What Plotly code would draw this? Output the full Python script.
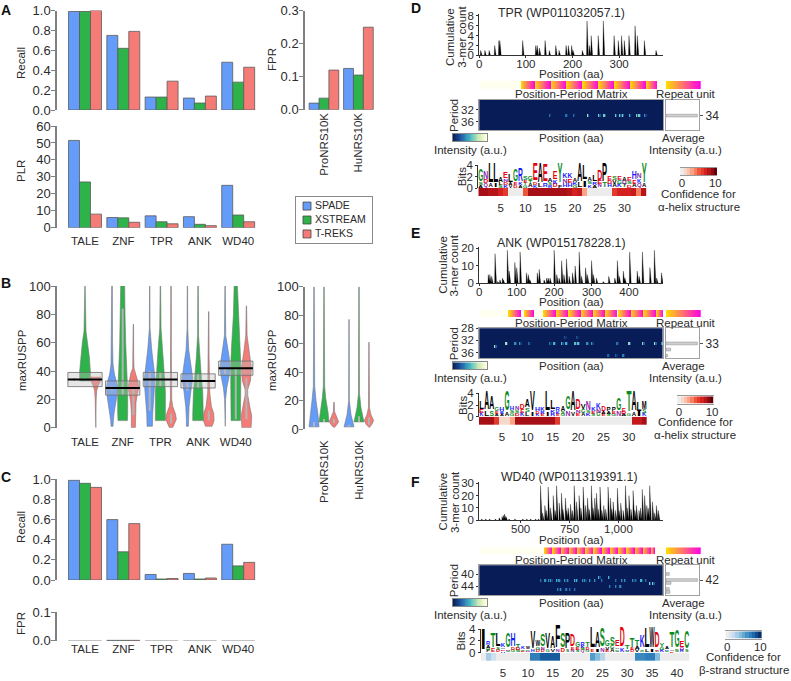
import numpy as np
import plotly.graph_objects as go

W, H = 791, 681
FONT = "Liberation Sans"
TXT = "#2b2b2b"
AXC = "#808080"
BLUE, GREEN, RED = "#659CF9", "#2DB34A", "#F57B77"
TOOLS = ["SPADE", "XSTREAM", "T-REKS"]
COLORS = [BLUE, GREEN, RED]

# panel A
FAMILIES = ["TALE", "ZNF", "TPR", "ANK", "WD40"]
NRS = ["ProNRS10K", "HuNRS10K"]
A_RECALL_SPADE = [0.99, 0.75, 0.13, 0.12, 0.48]
A_RECALL_XSTREAM = [0.99, 0.62, 0.13, 0.07, 0.28]
A_RECALL_TREKS = [1.0, 0.79, 0.29, 0.14, 0.43]
A_PLR_SPADE = [51.5, 6, 7, 6.5, 25]
A_PLR_XSTREAM = [27, 5.8, 3.5, 2, 7.5]
A_PLR_TREKS = [8, 3.2, 2.3, 1.2, 3.5]
A_FPR_SPADE = [0.02, 0.125]
A_FPR_XSTREAM = [0.035, 0.105]
A_FPR_TREKS = [0.12, 0.25]

# panel C
C_RECALL_SPADE = [0.99, 0.60, 0.055, 0.065, 0.355]
C_RECALL_XSTREAM = [0.96, 0.28, 0.01, 0.01, 0.14]
C_RECALL_TREKS = [0.92, 0.56, 0.015, 0.02, 0.175]
C_FPR_SPADE = [0.0006, 0.0012, 0.0006, 0.0006, 0.0006]
C_FPR_XSTREAM = [0.0006, 0.0012, 0.0006, 0.0006, 0.0006]
C_FPR_TREKS = [0.0006, 0.0012, 0.0006, 0.0006, 0.0006]

# panel B, violin outlines: (maxRUSPP values, half widths)
V_TALE_S = ([35, 34, 33], [0, 2, 0])
V_TALE_X = ([100, 68, 60, 50, 40, 36, 33], [0.5, 3, 8, 13, 16, 16, 16])
V_TALE_T = ([36, 34, 30, 26, 20, 0], [14, 16, 8, 3, 1.5, 0.5])
V_ZNF_S = ([100, 60, 45, 38, 30, 26, 20, 10, 5, 1], [1, 1.5, 3, 7, 16, 17, 13, 6, 4, 3])
V_ZNF_X = ([100, 80, 60, 40, 25, 10, 5], [6, 7, 9, 12, 15, 15, 14])
V_ZNF_T = ([73, 50, 42, 38, 32, 28, 24, 18, 10, 5, 0], [0.5, 1, 2, 8, 14, 16, 12, 8, 6, 6, 6])
V_TPR_S = ([100, 70, 55, 45, 35, 28, 20, 10, 1], [0.5, 1, 6, 11, 16, 15, 12, 9, 8])
V_TPR_X = ([100, 70, 55, 40, 25, 10, 5], [0.7, 2, 7, 11, 15, 15, 15])
V_TPR_T = ([100, 50, 30, 20, 15, 10, 6, 3, 0], [0.7, 1, 1, 2, 5, 13, 16, 11, 5])
V_ANK_S = ([100, 70, 55, 45, 35, 25, 15, 5, 1], [0.5, 1, 4, 10, 16, 10, 5, 3, 3])
V_ANK_X = ([100, 65, 50, 35, 25, 10, 5], [0.7, 1.5, 5, 10, 14, 16, 16])
V_ANK_T = ([82, 50, 35, 25, 15, 10, 5, 1], [0.5, 1, 2, 3, 8, 15, 16, 10])
V_WD40_S = ([100, 65, 58, 50, 42, 35, 28, 20, 1], [0.5, 2, 6, 12, 16, 11, 5, 1.5, 0.5])
V_WD40_X = ([100, 80, 60, 45, 30, 15, 5], [5, 7, 12, 15, 15, 15, 14])
V_WD40_T = ([86, 65, 55, 42, 33, 27, 23, 15, 8, 2, 0], [0.5, 2, 7, 15, 12, 4, 4, 10, 16, 14, 14])
V_PRO_S = ([100, 30, 20, 10, 1.5], [0.7, 2, 6, 12, 15])
V_PRO_X = ([100, 30, 22, 12, 5], [0.7, 2, 5, 12, 15])
V_PRO_T = ([19, 12, 8, 5, 2, 1], [0.5, 2, 9, 14, 5, 1])
V_HU_S = ([77, 20, 10, 6, 1.5], [0.5, 1, 6, 11, 15])
V_HU_X = ([100, 25, 15, 8, 5], [0.7, 1.5, 6, 12, 15])
V_HU_T = ([61, 15, 10, 6, 3, 1], [0.5, 1.5, 6, 14, 8, 1])
# inner whisker bars (low, high)
INNER_FAM = [[(34, 35), (34, 35), (33, 35)], [(26, 27), (23, 84), (9, 28)], [(12, 40), (29, 39), (3, 10)],
             [(26, 33), (28, 38), (5, 12)], [(38, 42), (6, 42), (6, 35)]]
INNER_NRS = [[(1.5, 5), (5, 7), (4, 7)], [(2, 3), (5, 9), (3, 8)]]
BOX_Q1 = [29, 23, 29, 28, 37]
BOX_Q3 = [39, 33, 39, 38, 47]
BOX_MED = [34, 28, 34, 33, 42]

# panel D
D_NAME = "TPR (WP011032057.1)"
D_PEAK_POS = [3, 12, 21, 33, 42, 44, 93, 121, 124, 129, 141, 150, 164, 171, 186, 191, 198, 201, 221, 231, 236, 240,
              255, 266, 289, 298, 305, 311, 321, 334, 339, 354, 379]
D_PEAK_COUNT = [1, 1, 1, 2, 3, 3, 3, 2, 2, 1.5, 3, 1, 2, 1, 2, 2, 2, 1, 1, 7, 2, 4, 4, 7, 4, 3, 4, 3, 4, 6, 4, 3, 1]
D_REPEATS = [(89, 119), (119, 153), (153, 186), (186, 221), (221, 255), (255, 289), (289, 323), (323, 357), (357, 381)]
D_SPOT_POS = [151, 186, 203, 233, 257, 267, 292, 300, 306, 323, 337, 343, 356]
D_SPOT_PERIOD = [34] * 13
D_SPOT_VAL = [.3, .3, .3, .7, .6, .6, .6, .6, .6, .5, .6, .6, .4]
D_HIST_PERIOD = [34]
D_HIST_VAL = [0.95]
D_LETTERS = list("GNLLAELGRSGEAEAEYKKAALALDPESEAEHNY")
D_LOWER = ["AS", "QD", "A", "I", "SL", "KDN", "VA", "DE", "AK", "GTE", "AT", "KD", "L", "R", "RS", "DK", "F", "HN",
           "HE", "GK", "L", "I", "KS", "AR", "NE", "T", "HD", "AV", "KG", "TQ", "DS", "AE", "QK", "A"]
D_BITS = [3, 2.7, 4, 4, 1.8, 2.6, 2.2, 3, 3.1, 2, 2, 3.9, 4, 3.7, 1.6, 2.7, 4, 2.5, 2.5, 1.6, 4, 3.8, 1.7, 2.2, 3, 4,
          2, 2, 2, 1.8, 1.8, 2.7, 2.5, 4]
D_TOP = [2, 1.3, 3.4, 3.4, .8, 1.1, 1.4, 2.1, 2.2, .7, .7, 3, 3.4, 3, .7, 1.4, 3.5, 1, 1, .6, 3.2, 2.6, .6, 1.2, 1.8,
         3.2, .7, .7, .7, .6, .7, 1.4, 1, 3.4]
D_CONF = [8.5, 8.5, 8, 8, 7, 6, 0, 0, 0, 5, 8.5, 8.5, 8.5, 8.5, 8.5, 8.5, 8.5, 8.5, 8, 7, 7.5, 3, 0, 0, 0, 0, 0, 6, 7,
          7, 7, 7.5, 4, 8]

# panel E
E_NAME = "ANK (WP015178228.1)"
E_PEAK_POS = [24, 28, 33, 42, 49, 55, 62, 64, 75, 80, 95, 100, 109, 126, 131, 135, 155, 160, 173, 180, 184, 189, 200,
              207, 213, 220, 226, 233, 240, 249, 256, 267, 273, 284, 289, 300, 305, 313, 331, 346, 362, 369, 374, 385,
              389, 402, 422, 427, 436, 456, 468, 474, 487]
E_PEAK_COUNT = [5, 5, 4, 17, 1, 2, 3, 2, 19, 7, 12, 9, 18, 6, 5, 2, 6, 8, 2, 3, 3, 3, 19, 5, 3, 13, 5, 14, 4, 6, 10,
                18, 4, 9, 5, 13, 5, 3, 1, 4, 3, 13, 4, 7, 3, 18, 7, 4, 18, 9, 19, 3, 6]
E_REPEATS = [(78, 111), (120, 146), (171, 205), (205, 238), (238, 271), (271, 304), (304, 336), (336, 369), (371, 404),
             (404, 438), (438, 472), (472, 491)]
E_SPOT_POS = [41, 75, 98, 110, 132, 190, 201, 222, 233, 256, 267, 289, 301, 370, 403, 437, 470, 489, 231, 262, 345,
              365, 385]
E_SPOT_PERIOD = [34] + [33] * 17 + [31, 31, 37, 37, 37]
E_SPOT_VAL = [.7, .7, .4, .4, .3, .3, .5, .55, .5, .55, .55, .4, .4, .3, .65, .65, .7, .4, .2, .2, .25, .25, .35]
E_HIST_PERIOD = [33, 35, 37]
E_HIST_VAL = [0.95, 0.14, 0.05]
E_LETTERS = list("LAAGHGHNDAVHKLLRAGADVNKKDPPGETALM")
E_LOWER = ["KE", "L", "S", "AE", "AR", "A", "GS", "DS", "KE", "LS", "I", "KD", "ER", "I", "RK", "EK", "GS", "N", "V",
           "EN", "AG", "KS", "SE", "GN", "EA", "SA", "GE", "N", "AD", "G", "A", "I", "KS"]
E_BITS = [2.4, 4, 3.2, 1.5, 1.5, 4, 1.6, 1.6, 2.2, 2.8, 4, 1.5, 1.5, 4, 2.6, 1.4, 1.8, 3.2, 4, 2.8, 2, 2.5, 1.5, 2.2,
          1.7, 1.5, 1.5, 3, 1.3, 4, 4, 2.4, 2.5]
E_TOP = [1.3, 3.2, 2.2, .7, .7, 3.4, .6, .6, 1, 1.4, 3.4, .7, .6, 3.4, 1.6, .6, .9, 2.3, 3.4, 1.8, .9, 1.5, .6, 1.1,
         .8, .6, .6, 2.1, .6, 3.6, 3.4, 1.6, 1.3]
E_CONF = [8.5, 8.5, 8.5, 6, 1, 1, 3, 8.5, 8.5, 8.5, 8.5, 8.5, 8.5, 8.5, 8.5, 6, 0, 0, 0, 0, 0, 0, 0, 0, 0, 0, 0, 0, 0,
          0, 7.5, 7.5, 8.5]

# panel F
F_NAME = "WD40 (WP011319391.1)"
F_PEAK_POS = [300, 320, 340, 370, 390, 405, 412, 418, 425, 440, 470, 510, 530, 550, 575, 590, 602, 612, 624, 632, 641,
              653, 667, 676, 684, 697, 709, 716, 729, 736, 743, 755, 765, 774, 786, 799, 808, 820, 832, 842, 850, 862,
              870, 879, 888, 897, 906, 915, 925, 935, 947, 959, 966, 973, 985, 995, 1003, 1012, 1024, 1036, 1045,
              1054, 1064, 1075, 1084, 1092, 1105, 1113, 1122, 1134, 1145, 1152, 1160, 1174, 1185, 1194, 1204]
F_PEAK_COUNT = [1, 1, 1, 1, 2, 3, 4, 5, 3, 1, 1, 1, 1, 1, 1, 1, 28, 6, 12, 8, 27, 10, 20, 8, 28, 14, 22, 9, 18, 8, 10,
                13, 8, 28, 15, 20, 10, 27, 12, 18, 9, 28, 10, 18, 22, 9, 27, 8, 12, 9, 27, 18, 9, 15, 8, 26, 8, 14, 8,
                28, 10, 20, 9, 24, 8, 12, 8, 10, 25, 20, 12, 10, 28, 15, 6, 12, 8]
F_REPEATS = [(620, 662), (662, 704), (704, 746), (746, 788), (788, 830), (830, 872), (872, 914), (914, 956), (956, 998),
             (998, 1040), (1040, 1082), (1082, 1124), (1124, 1166), (1166, 1186)]
F_SPOT_POS = [602, 629, 646, 660, 687, 700, 729, 743, 775, 788, 819, 832, 857, 879, 913, 990, 1015, 1036, 1075, 1092,
              1122, 1143, 905, 949, 1163, 1177, 956, 990, 1012, 694, 707, 735, 752, 777]
F_SPOT_PERIOD = [42] * 22 + [41, 41, 43, 43, 44, 44, 44, 45, 45, 45, 45, 45]
F_SPOT_VAL = [.3, .4, .4, .4, .5, .4, .4, .4, .5, .5, .4, .4, .4, .4, .3, .3, .4, .4, .4, .3, .5, .3, .5, .5, .6, .6,
              .35, .35, .35, .35, .4, .3, .3, .3]
F_HIST_PERIOD = [40, 42, 43, 45, 46]
F_HIST_VAL = [0.1, 0.95, 0.15, 0.1, 0.12]
F_LETTERS = list("IRTLKGHTKWVWSVAFSPDGRTLASGSEDTTTKLWDYATGEC")
F_LOWER = ["", "PGA", "E", "DS", "HDA", "SN", "GD", "SD", "ES", "NG", "H", "DG", "DN", "G", "V", "N", "D", "S", "NE",
           "SE", "QSK", "GD", "E", "I", "N", "EV", "AG", "SGA", "K", "SR", "DE", "VA", "GS", "L", "I", "VE", "KG",
           "SK", "EA", "S", "RQ", "S"]
F_BITS = [3.8, 1.9, 3, 3, 1.4, 3, 3, 1.4, 1, 1, 3.2, 2.1, 2.7, 3, 2.6, 4.2, 3, 3, 2.7, 1.8, 1.8, 1.7, 4, 3.1, 3.7, 1.9,
          2.5, 1.9, 4, 1.2, 2.3, 2.1, 2.6, 3.9, 4, 3.3, 1.6, 1, 3.2, 3.4, 2, 3.4]
F_TOP = [3.6, .7, 2.4, 2.2, .6, 2.4, 2.2, .7, .4, .4, 2.8, 1.2, 1.9, 2.6, 2.1, 3.8, 2.4, 2.6, 1.9, .9, .7, .9, 3.6,
         2.6, 3.1, 1, 1.4, 1, 3.4, .6, 1.5, 1.1, 2, 3.4, 3.6, 2.7, .7, .4, 2.7, 2.9, 1.2, 3]
F_CONF = [0, 3, 1.5, 0, 0, 0, 0, 0, 0, 0, 7, 7, 8.5, 8.5, 8.5, 8.5, 0, 0, 0, 0, 0, 0, 5.5, 4, 2.5, 0, 0, 0, 0, 0, 0,
          6.5, 6.5, 7, 7, 4, 0, 0, 0, 0, 0, 0]

STRIP_SCALE = [[0, "#fffff0"], [0.0899, "#fffff0"], [0.0909, "#ffdc00"], [1, "#ff00e6"]]
INTENSITY_SCALE = [[0, "#081d58"], [.25, "#225ea8"], [.5, "#41b6c4"], [.75, "#c7e9b4"], [1, "#ffffd9"]]
REDS = [[0, "#ececec"], [.15, "#fcd0bc"], [.35, "#fc9272"], [.5, "#f0553c"], [.7, "#d42020"], [.85, "#a50f15"], [1, "#67000d"]]
BLUES = [[0, "#ececec"], [.2, "#c6dbef"], [.4, "#85bcdc"], [.6, "#4292c6"], [.8, "#1b69ab"], [1, "#08306b"]]
RES_COLOR = {"D": "#e8000d", "E": "#e8000d", "K": "#1a1aff", "R": "#1a1aff", "H": "#1a1aff", "N": "#8a1fa8", "Q": "#8a1fa8",
             "G": "#0a8a1e", "S": "#0a8a1e", "T": "#0a8a1e", "Y": "#0a8a1e", "C": "#0a8a1e"}

fig = go.Figure()
layout = {}
n_axes = [0]
annots = []


def add_axes(left, top, right, bottom, xopts=None, yopts=None):
    n_axes[0] += 1
    n = n_axes[0]
    suffix = "" if n == 1 else str(n)
    xo = dict(visible=False, anchor="y" + suffix, domain=[left / W, right / W], fixedrange=True)
    yo = dict(visible=False, anchor="x" + suffix, domain=[1 - bottom / H, 1 - top / H], fixedrange=True)
    xo.update(xopts or {})
    yo.update(yopts or {})
    layout["xaxis" + suffix] = xo
    layout["yaxis" + suffix] = yo
    return "x" + suffix, "y" + suffix


def label(x, y, text, size=11.5, angle=0, bold=False, color=TXT):
    annots.append(dict(x=x / W, y=1 - y / H, xref="paper", yref="paper", text=text, showarrow=False, textangle=angle,
                       xanchor="center", yanchor="middle", font=dict(family=FONT, size=size, color=color,
                                                                     weight="bold" if bold else "normal")))


def value_axis(tickvals, ticktext, rng, size=13):
    return dict(visible=True, range=rng, tickvals=tickvals, ticktext=ticktext, showline=True, linecolor=AXC,
                linewidth=1.5, ticks="outside", ticklen=4, tickwidth=1, tickcolor=AXC, showgrid=False, zeroline=False,
                ticklabelstandoff=-2, tickfont=dict(family=FONT, size=size, color=TXT))


def cat_axis(cats, rng, size=11.5, angle=0, show=True, standoff=0):
    return dict(visible=True, type="category", categoryarray=cats, range=rng, showline=False, showgrid=False,
                showticklabels=show, ticks="", tickangle=angle, ticklabelstandoff=standoff,
                tickfont=dict(family=FONT, size=size, color=TXT))


def bars(xa, ya, cats, series, edge="#5a5a5a"):
    for name, color, vals in zip(TOOLS, COLORS, series):
        fig.add_trace(go.Bar(x=cats, y=vals, name=name, marker=dict(color=color, line=dict(color=edge, width=0.8)),
                             xaxis=xa, yaxis=ya, showlegend=False, hoverinfo="skip"))


FRAC = [0, 0.2, 0.4, 0.6, 0.8, 1.0]
FRAC_T = ["0.0", "0.2", "0.4", "0.6", "0.8", "1.0"]
FAM_RANGE = [-0.731, 4.517]

# A
xa, ya = add_axes(57, 10.5, 258, 110, cat_axis(FAMILIES, FAM_RANGE, show=False), value_axis(FRAC, FRAC_T, [0, 1]))
bars(xa, ya, FAMILIES, [A_RECALL_SPADE, A_RECALL_XSTREAM, A_RECALL_TREKS])
xa, ya = add_axes(57, 126, 258, 227.7, cat_axis(FAMILIES, FAM_RANGE, standoff=5),
                  value_axis([0, 10, 20, 30, 40, 50, 60], [str(v) for v in range(0, 70, 10)], [0, 60]))
bars(xa, ya, FAMILIES, [A_PLR_SPADE, A_PLR_XSTREAM, A_PLR_TREKS])
xa, ya = add_axes(305, 10.7, 376, 109.7, cat_axis(NRS, [-0.55, 1.51], angle=-90),
                  value_axis([0, 0.1, 0.2, 0.3], ["0.0", "0.1", "0.2", "0.3"], [0, 0.3]))
bars(xa, ya, NRS, [A_FPR_SPADE, A_FPR_XSTREAM, A_FPR_TREKS])
label(21, 63, "Recall")
annots[-1]["textangle"] = -90
label(21, 171, "PLR", angle=-90)
label(272, 60, "FPR", angle=-90)

# tool key, a small bordered box instead of the wider built-in legend
box_key = dict(visible=True, showline=True, mirror=True, linecolor="#8a8a8a", linewidth=1.2, showticklabels=False,
               ticks="", showgrid=False, zeroline=False)
xa, ya = add_axes(296, 197, 372, 243, dict(range=[0, 76], **box_key), dict(range=[2.65, -0.65], **box_key))
fig.add_trace(go.Scatter(x=[11, 11, 11], y=[0, 1, 2], mode="markers",
                         marker=dict(symbol="square", size=8, color=COLORS, line=dict(color="#444", width=0.8)),
                         xaxis=xa, yaxis=ya, showlegend=False, hoverinfo="skip"))
fig.add_trace(go.Scatter(x=[19, 19, 19], y=[0, 1, 2], mode="text", text=TOOLS, textposition="middle right",
                         textfont=dict(family=FONT, size=10.5, color=TXT), xaxis=xa, yaxis=ya, showlegend=False,
                         hoverinfo="skip"))


def violins(xa, ya, groups, inners, spacing, offset):
    for i, group in enumerate(groups):
        for j, (vy, vw) in enumerate(group):
            c = i + (j - 1) * offset
            hw = np.array(vw) / (3 * spacing)
            px = list(c - hw) + list(c + hw[::-1])
            py = list(vy) + list(vy[::-1])
            fig.add_trace(go.Scatter(x=px, y=py, mode="lines", fill="toself", fillcolor=COLORS[j],
                                     line=dict(color="#777", width=0.6), xaxis=xa, yaxis=ya, showlegend=False,
                                     hoverinfo="skip"))
            lo, hi = inners[i][j]
            fig.add_trace(go.Scatter(x=[c, c], y=[lo, hi], mode="lines", line=dict(color="#b4b4b4", width=2),
                                     xaxis=xa, yaxis=ya, showlegend=False, hoverinfo="skip"))


# B
HUND = [0, 20, 40, 60, 80, 100]
xa, ya = add_axes(57, 286, 258, 427.7,
                  dict(visible=True, range=[-0.743, 4.59], tickvals=list(range(5)), ticktext=FAMILIES, showgrid=False,
                       zeroline=False, ticks="", ticklabelstandoff=6, tickfont=dict(family=FONT, size=11.5, color=TXT)),
                  value_axis(HUND, [str(v) for v in HUND], [0, 100]))
violins(xa, ya, [[V_TALE_S, V_TALE_X, V_TALE_T], [V_ZNF_S, V_ZNF_X, V_ZNF_T], [V_TPR_S, V_TPR_X, V_TPR_T],
                 [V_ANK_S, V_ANK_X, V_ANK_T], [V_WD40_S, V_WD40_X, V_WD40_T]], INNER_FAM, 37.7, 0.283)
for i in range(5):
    fig.add_trace(go.Scatter(x=[i - .455, i + .455, i + .455, i - .455, i - .455],
                             y=[BOX_Q1[i], BOX_Q1[i], BOX_Q3[i], BOX_Q3[i], BOX_Q1[i]], mode="lines", fill="toself",
                             fillcolor="rgba(190,190,190,0.38)", line=dict(color="#6e6e6e", width=0.8), xaxis=xa,
                             yaxis=ya, showlegend=False, hoverinfo="skip"))
    fig.add_trace(go.Scatter(x=[i - .455, i + .455], y=[BOX_MED[i], BOX_MED[i]], mode="lines",
                             line=dict(color="#000", width=2), xaxis=xa, yaxis=ya, showlegend=False, hoverinfo="skip"))
xa, ya = add_axes(305, 286.7, 376, 429,
                  dict(visible=True, range=[-0.543, 1.486], tickvals=[0, 1], ticktext=NRS, tickangle=-90,
                       showgrid=False, zeroline=False, ticks="", ticklabelstandoff=8,
                       tickfont=dict(family=FONT, size=11.5, color=TXT)),
                  value_axis(HUND, [str(v) for v in HUND], [0, 100]))
violins(xa, ya, [[V_PRO_S, V_PRO_X, V_PRO_T], [V_HU_S, V_HU_X, V_HU_T]], INNER_NRS, 35, 0.285)
label(22, 360, "maxRUSPP", angle=-90)
label(272, 360, "maxRUSPP", angle=-90)

# C
xa, ya = add_axes(57, 479.3, 258, 580, cat_axis(FAMILIES, FAM_RANGE, show=False), value_axis(FRAC, FRAC_T, [0, 1]))
bars(xa, ya, FAMILIES, [C_RECALL_SPADE, C_RECALL_XSTREAM, C_RECALL_TREKS])
xa, ya = add_axes(57, 612, 258, 640.7, cat_axis(FAMILIES, FAM_RANGE),
                  value_axis([0, 0.1], ["0.0", "0.1"], [0, 0.1]))
bars(xa, ya, FAMILIES, [C_FPR_SPADE, C_FPR_XSTREAM, C_FPR_TREKS], edge=["#b8b8b8", "#555", "#b8b8b8", "#b8b8b8", "#b8b8b8"])
label(21, 527, "Recall", angle=-90)
label(21, 624, "FPR", angle=-90)

for text, ly in (("A", 10), ("B", 283), ("C", 477)):
    label(6, ly, text, 14, bold=True, color="#111")
for text, ly in (("D", 8), ("E", 233), ("F", 482)):
    label(416, ly, text, 14, bold=True, color="#111")


def spikes(pos, counts, w0, w1):
    sx, sy = [], []
    for p, c in zip(pos, counts):
        sx += [p - w0, p, p + w1, None]
        sy += [0, c, 0, None]
    return sx, sy


def small_axis(tickvals, ticktext, rng, standoff=0):
    return dict(visible=True, range=rng, tickvals=tickvals, ticktext=ticktext, showline=True, linecolor="#333",
                linewidth=1, ticks="outside", ticklen=2, tickcolor="#333", showgrid=False, zeroline=False,
                ticklabelstandoff=standoff, tickfont=dict(family=FONT, size=11.5, color=TXT))


def protein_panel(p):
    xr, left = p["xr"], 479.3
    # cumulative 3-mer counts
    xa, ya = add_axes(left, p["area"][0], 663, p["area"][1], small_axis(p["xt"], p["xl"], xr, -4),
                      small_axis(p["yt"], [str(v) for v in p["yt"]], p["yr"]))
    sx, sy = spikes(p["pos"], p["cnt"], p["w0"], p["w1"])
    fig.add_trace(go.Scatter(x=sx, y=sy, mode="lines", fill="toself", fillcolor="#000", line=dict(color="#000", width=0.3),
                             xaxis=xa, yaxis=ya, showlegend=False, hoverinfo="skip"))
    label(p["title_x"], p["title_y"], p["name"], 12.3)
    label(p["cum_x"], p["cum_y"], "Cumulative", 11.5, -90)
    label(p["cum_x"] + 11.7, p["cum_y"], "3-mer count", 11.5, -90)
    label(571, p["pos_y"], "Position (aa)")

    # repeat strip
    xs = np.arange(xr[0], xr[1], p["step"])
    strip = np.full(xs.shape, -0.1)
    for a, b in p["rep"]:
        inside = (xs >= a) & (xs < b)
        strip[inside] = (xs[inside] - a) / (b - a)
    xa, ya = add_axes(left, p["strip"][0], 663, p["strip"][1], dict(range=xr))
    fig.add_trace(go.Heatmap(x=xs, y=[0], z=[strip], colorscale=STRIP_SCALE, zmin=-0.1, zmax=1, showscale=False,
                             xaxis=xa, yaxis=ya, hoverinfo="skip"))
    xa, ya = add_axes(666, p["strip"][0], 700.7, p["strip"][1])
    fig.add_trace(go.Heatmap(x=np.arange(40), y=[0], z=[np.arange(40) / 39], colorscale=STRIP_SCALE, zmin=-0.1, zmax=1,
                             showscale=False, xaxis=xa, yaxis=ya, hoverinfo="skip"))
    label(571, p["strip"][1] + 5.3, "Position-Period Matrix")
    label(685.7, p["strip"][1] + 5.3, "Repeat unit")

    # position-period matrix
    periods = np.arange(p["pr"][0], p["pr"][1] + 1)
    bins = np.arange(xr[0], xr[1], p["mstep"])
    z = np.zeros((len(periods), len(bins)))
    for sp, per, val in zip(p["sp"], p["sper"], p["sval"]):
        row = per - periods[0]
        col = int((sp - xr[0]) / p["mstep"])
        z[row, col] = val
        if col + 1 < len(bins):
            z[row, col + 1] = max(z[row, col + 1], val * 0.35)
    mt, mb = p["matrix"]
    box = dict(showline=True, mirror=True, linecolor="#a0a0a0", linewidth=1.2, showgrid=False, zeroline=False, ticks="")
    xopts = dict(visible=True, showticklabels=False, range=xr, **box)
    yopts = dict(visible=True, range=p["pview"], tickvals=p["pt"], ticktext=[str(v) for v in p["pt"]], **box)
    yopts.update(ticks="outside", ticklen=2, tickcolor="#333", tickfont=dict(family=FONT, size=11.5, color=TXT))
    xa, ya = add_axes(left, mt, 663, mb, xopts, yopts)
    fig.add_trace(go.Heatmap(x=bins, y=periods, z=z, colorscale=INTENSITY_SCALE, zmin=0, zmax=1, showscale=False,
                             xaxis=xa, yaxis=ya, hoverinfo="skip"))
    label(454, (mt + mb) / 2, "Period", 11.5, -90)

    # average intensity histogram
    xopts = dict(visible=True, showticklabels=False, range=[0, 1], **box)
    yopts = dict(visible=True, range=p["pview"], side="right", tickvals=[p["main"]], ticktext=[str(p["main"])], **box)
    yopts.update(ticks="outside", ticklen=3, tickcolor="#555", tickfont=dict(family=FONT, size=12, color=TXT))
    xa, ya = add_axes(666, mt, 699, mb, xopts, yopts)
    fig.add_trace(go.Bar(x=p["hv"], y=p["hp"], orientation="h", width=0.9, marker=dict(color="#cfcfcf", line=dict(color="#8a8a8a", width=0.5)),
                         xaxis=xa, yaxis=ya, showlegend=False, hoverinfo="skip"))

    # intensity key
    xa, ya = add_axes(452.7, mb + 4, 486.7, mb + 11, dict(visible=True, range=[-0.5, 39.5], mirror=True, showline=True,
                      linecolor="#888", showticklabels=False, ticks="", showgrid=False, zeroline=False),
                      dict(visible=True, range=[-0.5, 0.5], mirror=True, showline=True, linecolor="#888",
                           showticklabels=False, ticks="", showgrid=False, zeroline=False))
    fig.add_trace(go.Heatmap(x=np.arange(40), y=[0], z=[np.arange(40) / 39], colorscale=INTENSITY_SCALE, zmin=0, zmax=1,
                             showscale=False, xaxis=xa, yaxis=ya, hoverinfo="skip"))
    label(571, mb + 7.5, "Position (aa)")
    label(470, mb + 19.7, "Intensity (a.u.)")
    label(683, mb + 7.5, "Average")
    label(685, mb + 19.7, "Intensity (a.u.)")

    # sequence logo
    n = len(p["let"])
    lr = [0.5, n + 0.5]
    lt, lb = p["logo_y"]
    px_bit = (lb - lt) / 4
    lx, ly, lsize, lcol, ltext = [], [], [], [], []
    for i, (top, low, bits, t) in enumerate(zip(p["let"], p["low"], p["bits"], p["top"])):
        base = 0
        share = (bits - t) / max(len(low), 1)
        for ch, h in [(c, share) for c in low] + [(top, t)]:
            lx.append(i + 1)
            ly.append(base + h / 2)
            lsize.append(max(h * px_bit / 0.72, 2.5))
            lcol.append(RES_COLOR.get(ch, "#000"))
            ltext.append(ch)
            base += h
    xa, ya = add_axes(p["lx"][0], lt, p["lx"][1], lb, dict(range=lr),
                      small_axis([0, 2, 4], ["0", "2", "4"], [0, 4]))
    fig.add_trace(go.Scatter(x=lx, y=ly, text=ltext, mode="text", textposition="middle center", cliponaxis=False,
                             textfont=dict(family=FONT, size=lsize, color=lcol, weight="bold"), xaxis=xa, yaxis=ya,
                             showlegend=False, hoverinfo="skip"))
    label(p["bits_x"], (lt + lb) / 2, "Bits", 11.5, -90)

    # confidence strip
    cols = np.arange(1, n + 1)
    xa, ya = add_axes(p["lx"][0], lb, p["lx"][1], lb + 8.3,
                      dict(visible=True, range=lr, tickvals=list(range(5, n + 1, 5)), showline=False, ticks="", showgrid=False,
                           zeroline=False, ticklabelstandoff=3, tickfont=dict(family=FONT, size=11.5, color=TXT)))
    fig.add_trace(go.Heatmap(x=cols, y=[0], z=[p["conf"]], colorscale=p["cmap"], zmin=0, zmax=10, showscale=False,
                             xaxis=xa, yaxis=ya, hoverinfo="skip"))

    # confidence key
    steps = np.arange(0, 11)
    ct, cx0, cx1 = p["ckey"]
    xa, ya = add_axes(cx0, ct, cx1, ct + 7.4,
                      dict(visible=True, range=[-0.6, 10.5], tickvals=[0, 10], showline=True, mirror=True, linecolor="#999",
                           ticks="", showgrid=False, zeroline=False, ticklabelstandoff=-3,
                           tickfont=dict(family=FONT, size=11.5, color=TXT)))
    fig.add_trace(go.Heatmap(x=steps, y=[0], z=[steps], colorscale=p["cmap"], zmin=0, zmax=10, showscale=False,
                             xaxis=xa, yaxis=ya, hoverinfo="skip"))
    label((cx0 + cx1) / 2, ct + 26, "Confidence for")
    label((cx0 + cx1) / 2, ct + 38.7, p["struct"])


protein_panel(dict(name=D_NAME, title_x=561, title_y=12.7, xr=[0, 394], yr=[0, 8.4], area=(14, 55.3), xt=[0, 100, 200, 300],
                   xl=["0", "100", "200", "300"], yt=[0, 2, 4, 6, 8], pos=D_PEAK_POS, cnt=D_PEAK_COUNT, w0=1, w1=3,
                   cum_x=450, cum_y=37, pos_y=74, step=1, rep=D_REPEATS, strip=(81, 89), matrix=(100, 130), pr=(29, 39),
                   pview=[38.9, 28.7], pt=[32, 36], mstep=3, sp=D_SPOT_POS, sper=D_SPOT_PERIOD, sval=D_SPOT_VAL, main=34,
                   hv=D_HIST_VAL, hp=D_HIST_PERIOD, let=D_LETTERS, low=D_LOWER, bits=D_BITS, top=D_TOP, conf=D_CONF,
                   logo_y=(165, 188), lx=(478.3, 646.7), bits_x=461.7, cmap=REDS, ckey=(168, 680, 717),
                   struct="α-helix structure"))
protein_panel(dict(name=E_NAME, title_x=561, title_y=242.7, xr=[0, 491], yr=[0, 21], area=(246.7, 283.3),
                   xt=[0, 100, 200, 300, 400], xl=["0", "100", "200", "300", "400"], yt=[0, 10, 20], pos=E_PEAK_POS,
                   cnt=E_PEAK_COUNT, w0=1, w1=4, cum_x=442.7, cum_y=265, pos_y=302.3, step=1, rep=E_REPEATS,
                   strip=(310, 317.3), matrix=(328.3, 358.3), pr=(28, 38), pview=[37.9, 28], pt=[28, 32, 36], mstep=4,
                   sp=E_SPOT_POS, sper=E_SPOT_PERIOD, sval=E_SPOT_VAL, main=33, hv=E_HIST_VAL, hp=E_HIST_PERIOD,
                   let=E_LETTERS, low=E_LOWER, bits=E_BITS, top=E_TOP, conf=E_CONF, logo_y=(393.3, 416.7),
                   lx=(479, 646.7), bits_x=463, cmap=REDS, ckey=(396.3, 677, 713.7), struct="α-helix structure"))
protein_panel(dict(name=F_NAME, title_x=569, title_y=477.3, xr=[289, 1228], yr=[0, 31], area=(482, 520.3),
                   xt=[500, 750, 1000], xl=["500", "750", "1,000"], yt=[0, 10, 20, 30], pos=F_PEAK_POS,
                   cnt=F_PEAK_COUNT, w0=1, w1=8, cum_x=442.7, cum_y=501.7, pos_y=540, step=2, rep=F_REPEATS,
                   strip=(547.3, 554.3), matrix=(565.3, 595), pr=(37, 47), pview=[47, 37.1], pt=[40, 44], mstep=6,
                   sp=F_SPOT_POS, sper=F_SPOT_PERIOD, sval=F_SPOT_VAL, main=42, hv=F_HIST_VAL, hp=F_HIST_PERIOD,
                   let=F_LETTERS, low=F_LOWER, bits=F_BITS, top=F_TOP, conf=F_CONF, logo_y=(629, 652.7),
                   lx=(480.7, 689.3), bits_x=460.7, cmap=BLUES, ckey=(631.3, 725.3, 762), struct="β-strand structure"))

fig.update_layout(**layout)
fig.update_layout(width=W, height=H, margin=dict(l=0, r=0, t=0, b=0, autoexpand=False), paper_bgcolor="white",
                  plot_bgcolor="white", barmode="group", bargap=0.14, bargroupgap=0, annotations=annots,
                  font=dict(family=FONT, color=TXT), showlegend=False)

# squeeze the logo letters into their columns and drop the page margin
SCRIPT = """
document.body.style.margin = '0';
document.querySelectorAll('.scatterlayer .trace').forEach(function (tr) {
  var pts = tr.querySelectorAll('.textpoint text');
  if (pts.length < 10) return;
  pts.forEach(function (t) {
    var w = t.getBBox().width, x = +t.getAttribute('x');
    if (w > 0) t.setAttribute('transform', 'translate(' + x + ',0) scale(' + (5 / w) + ',1) translate(' + (-x) + ',0)');
  });
});
"""
fig.write_html("out.html", post_script=SCRIPT, config={"displayModeBar": False})
